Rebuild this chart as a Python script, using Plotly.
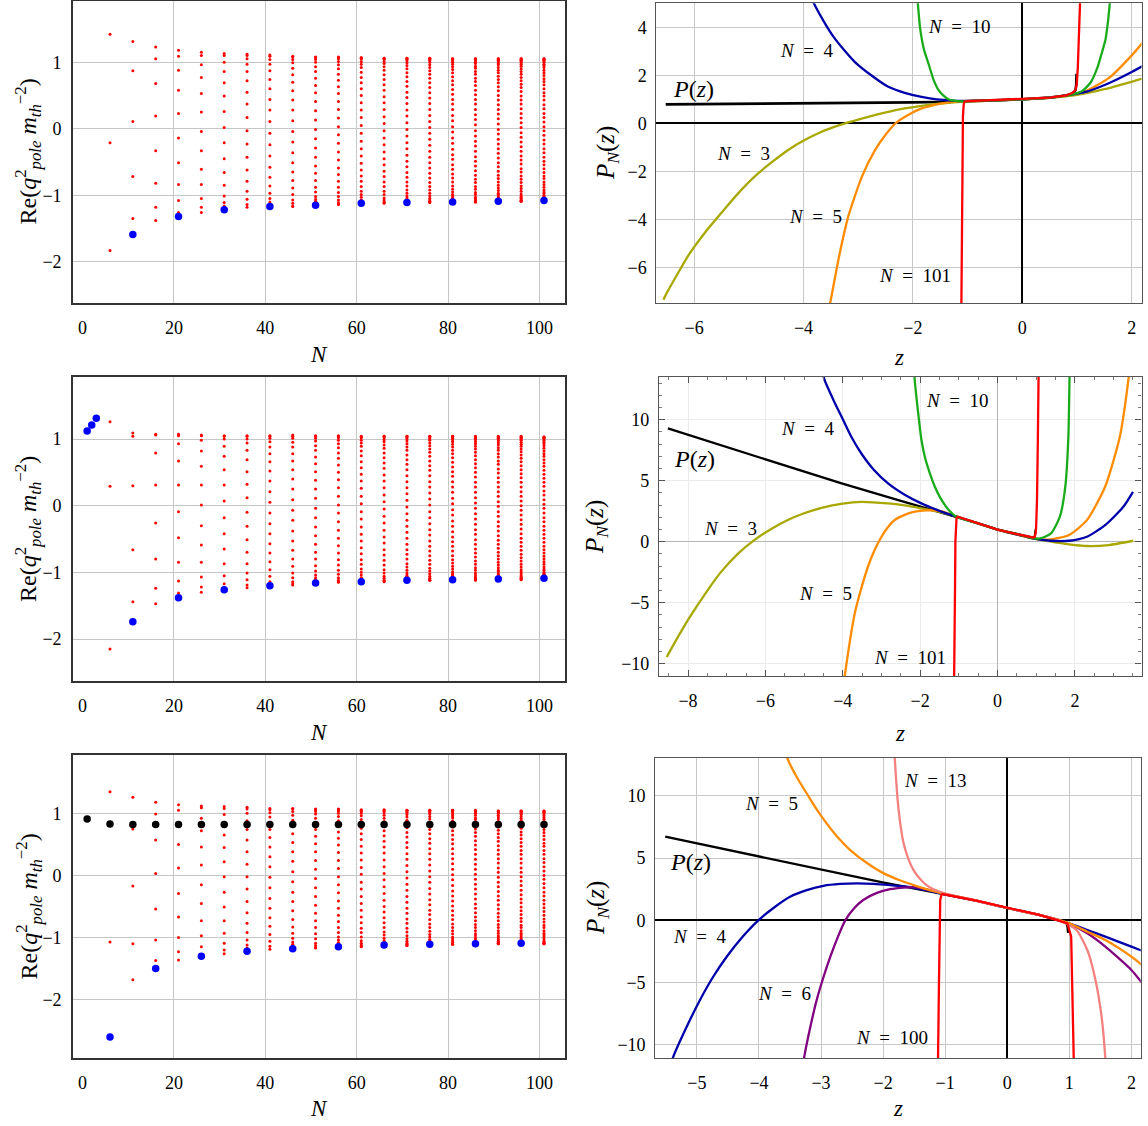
import plotly.graph_objects as go
from plotly.subplots import make_subplots

# ===================== LEFT COLUMN DATA =====================
N_cols = [6, 11, 16, 21, 26, 31, 36, 41, 46, 51, 56, 61, 66, 71, 76, 81, 86, 91, 96, 101]

red_top = [
 [1.42, -0.21, -1.83],
 [1.31, 0.87, 0.11, -0.72, -1.35],
 [1.23, 1.05, 0.68, 0.19, -0.33, -0.82, -1.18, -1.38],
 [1.18, 1.09, 0.88, 0.58, 0.23, -0.14, -0.51, -0.84, -1.08, -1.26],
 [1.15, 1.10, 0.96, 0.77, 0.53, 0.25, -0.04, -0.33, -0.61, -0.84, -1.05, -1.18, -1.26],
 [1.13, 1.10, 1.00, 0.86, 0.69, 0.49, 0.26, 0.02, -0.21, -0.45, -0.66, -0.85, -1.01, -1.11, -1.16],
 [1.12, 1.10, 1.05, 0.97, 0.86, 0.72, 0.55, 0.37, 0.17, -0.03, -0.23, -0.43, -0.62, -0.79, -0.94, -1.06, -1.14, -1.18],
 [1.11, 1.09, 1.04, 0.97, 0.87, 0.74, 0.60, 0.44, 0.28, 0.11, -0.07, -0.24, -0.41, -0.58, -0.73, -0.86, -0.97, -1.05, -1.10, -1.13],
 [1.09, 1.08, 1.04, 0.99, 0.91, 0.81, 0.70, 0.57, 0.43, 0.28, 0.12, -0.04, -0.20, -0.36, -0.51, -0.65, -0.78, -0.89, -0.99, -1.07, -1.12, -1.16, -1.17],
 [1.08, 1.07, 1.04, 1.00, 0.93, 0.86, 0.76, 0.65, 0.54, 0.41, 0.27, 0.13, -0.01, -0.15, -0.29, -0.43, -0.56, -0.67, -0.78, -0.88, -0.95, -1.02, -1.06, -1.09, -1.10],
 [1.08, 1.07, 1.05, 1.01, 0.96, 0.90, 0.82, 0.73, 0.63, 0.53, 0.41, 0.29, 0.16, 0.03, -0.09, -0.22, -0.35, -0.47, -0.59, -0.69, -0.79, -0.88, -0.96, -1.02, -1.07, -1.11, -1.13, -1.14],
 [1.07, 1.06, 1.05, 1.01, 0.97, 0.92, 0.85, 0.77, 0.69, 0.60, 0.50, 0.39, 0.28, 0.17, 0.05, -0.07, -0.19, -0.30, -0.41, -0.52, -0.62, -0.71, -0.79, -0.87, -0.94, -0.99, -1.03, -1.07, -1.08, -1.09],
 [1.06, 1.06, 1.04, 1.01, 0.98, 0.93, 0.88, 0.81, 0.74, 0.66, 0.58, 0.48, 0.39, 0.29, 0.18, 0.08, -0.03, -0.14, -0.24, -0.35, -0.45, -0.54, -0.64, -0.72, -0.80, -0.87, -0.94, -0.99, -1.04, -1.07, -1.10, -1.11, -1.12],
 [1.06, 1.06, 1.04, 1.02, 0.99, 0.95, 0.90, 0.84, 0.78, 0.71, 0.64, 0.55, 0.47, 0.38, 0.28, 0.19, 0.09, -0.01, -0.11, -0.21, -0.30, -0.40, -0.49, -0.57, -0.66, -0.73, -0.80, -0.86, -0.92, -0.97, -1.01, -1.04, -1.06, -1.07, -1.08],
 [1.06, 1.06, 1.04, 1.03, 1.00, 0.96, 0.92, 0.87, 0.82, 0.76, 0.69, 0.62, 0.54, 0.46, 0.38, 0.29, 0.20, 0.11, 0.02, -0.07, -0.16, -0.25, -0.34, -0.43, -0.51, -0.59, -0.67, -0.74, -0.81, -0.87, -0.92, -0.97, -1.01, -1.05, -1.07, -1.09, -1.10, -1.11],
 [1.05, 1.05, 1.04, 1.02, 1.00, 0.97, 0.93, 0.89, 0.84, 0.78, 0.72, 0.66, 0.59, 0.52, 0.44, 0.37, 0.29, 0.20, 0.12, 0.03, -0.05, -0.14, -0.22, -0.31, -0.39, -0.46, -0.54, -0.61, -0.68, -0.74, -0.80, -0.86, -0.91, -0.95, -0.99, -1.02, -1.04, -1.06, -1.07, -1.07],
 [1.05, 1.05, 1.04, 1.02, 1.00, 0.98, 0.94, 0.91, 0.86, 0.82, 0.76, 0.71, 0.65, 0.58, 0.51, 0.44, 0.37, 0.29, 0.21, 0.14, 0.06, -0.03, -0.11, -0.19, -0.26, -0.34, -0.42, -0.49, -0.56, -0.63, -0.70, -0.76, -0.81, -0.87, -0.91, -0.96, -0.99, -1.03, -1.05, -1.07, -1.09, -1.10, -1.10],
 [1.05, 1.05, 1.04, 1.03, 1.01, 0.98, 0.96, 0.92, 0.88, 0.84, 0.79, 0.74, 0.69, 0.63, 0.57, 0.50, 0.43, 0.36, 0.29, 0.22, 0.15, 0.07, -0.01, -0.08, -0.16, -0.23, -0.30, -0.37, -0.44, -0.51, -0.57, -0.64, -0.70, -0.75, -0.80, -0.85, -0.89, -0.93, -0.97, -0.99, -1.02, -1.04, -1.05, -1.06, -1.06],
 [1.05, 1.05, 1.04, 1.03, 1.01, 0.99, 0.97, 0.94, 0.90, 0.86, 0.82, 0.77, 0.72, 0.67, 0.62, 0.56, 0.49, 0.43, 0.37, 0.30, 0.23, 0.16, 0.09, 0.02, -0.06, -0.13, -0.20, -0.27, -0.34, -0.41, -0.47, -0.53, -0.60, -0.65, -0.71, -0.76, -0.81, -0.86, -0.90, -0.94, -0.98, -1.01, -1.03, -1.05, -1.07, -1.08, -1.09, -1.09],
 [1.05, 1.05, 1.04, 1.03, 1.02, 1.00, 0.97, 0.95, 0.92, 0.88, 0.84, 0.80, 0.75, 0.71, 0.66, 0.60, 0.54, 0.49, 0.43, 0.36, 0.30, 0.23, 0.17, 0.10, 0.03, -0.03, -0.10, -0.17, -0.23, -0.30, -0.36, -0.43, -0.49, -0.54, -0.60, -0.66, -0.71, -0.75, -0.80, -0.84, -0.88, -0.92, -0.95, -0.97, -1.00, -1.02, -1.03, -1.04, -1.05, -1.05],
]
blue_top_N = [11, 21, 31, 41, 51, 61, 71, 81, 91, 101]
blue_top = [-1.59, -1.32, -1.22, -1.17, -1.15, -1.12, -1.11, -1.10, -1.09, -1.08]

red_mid = [
 [1.26, 0.29, -2.15],
 [1.09, 1.04, 0.30, -0.66, -1.44],
 [1.07, 1.06, 0.79, 0.31, -0.26, -0.80, -1.24, -1.47],
 [1.07, 1.05, 0.93, 0.67, 0.31, -0.09, -0.48, -0.85, -1.13, -1.31],
 [1.06, 1.05, 0.98, 0.82, 0.59, 0.31, 0.01, -0.30, -0.59, -0.85, -1.07, -1.22, -1.30],
 [1.05, 1.04, 1.00, 0.89, 0.74, 0.54, 0.31, 0.07, -0.18, -0.42, -0.65, -0.87, -1.05, -1.17, -1.23],
 [1.05, 1.04, 1.00, 0.94, 0.83, 0.69, 0.51, 0.32, 0.12, -0.10, -0.31, -0.51, -0.70, -0.87, -1.01, -1.11, -1.19, -1.23],
 [1.05, 1.04, 1.01, 0.96, 0.88, 0.78, 0.66, 0.52, 0.37, 0.21, 0.05, -0.11, -0.27, -0.42, -0.57, -0.71, -0.84, -0.96, -1.06, -1.14],
 [1.06, 1.04, 1.01, 0.95, 0.88, 0.78, 0.67, 0.54, 0.40, 0.25, 0.09, -0.07, -0.22, -0.38, -0.53, -0.67, -0.80, -0.91, -1.01, -1.08, -1.14, -1.17, -1.19],
 [1.05, 1.04, 1.01, 0.97, 0.90, 0.83, 0.73, 0.63, 0.51, 0.38, 0.25, 0.11, -0.04, -0.18, -0.32, -0.45, -0.58, -0.70, -0.80, -0.90, -0.98, -1.04, -1.08, -1.11, -1.12],
 [1.05, 1.04, 1.02, 0.98, 0.93, 0.87, 0.79, 0.71, 0.61, 0.50, 0.39, 0.27, 0.14, 0.01, -0.11, -0.24, -0.37, -0.49, -0.60, -0.71, -0.81, -0.89, -0.97, -1.03, -1.08, -1.12, -1.14, -1.15],
 [1.04, 1.03, 1.02, 0.98, 0.94, 0.89, 0.82, 0.75, 0.66, 0.57, 0.47, 0.37, 0.26, 0.14, 0.03, -0.09, -0.20, -0.32, -0.43, -0.53, -0.63, -0.72, -0.81, -0.88, -0.95, -1.00, -1.04, -1.08, -1.09, -1.10],
 [1.04, 1.04, 1.02, 0.99, 0.96, 0.91, 0.86, 0.79, 0.72, 0.64, 0.56, 0.46, 0.37, 0.27, 0.16, 0.06, -0.05, -0.16, -0.26, -0.37, -0.47, -0.56, -0.66, -0.74, -0.82, -0.89, -0.96, -1.01, -1.06, -1.09, -1.12, -1.13, -1.14],
 [1.04, 1.04, 1.02, 1.00, 0.97, 0.93, 0.88, 0.83, 0.76, 0.69, 0.62, 0.54, 0.45, 0.36, 0.27, 0.18, 0.08, -0.02, -0.12, -0.22, -0.31, -0.40, -0.49, -0.58, -0.66, -0.73, -0.80, -0.87, -0.92, -0.97, -1.01, -1.04, -1.06, -1.07, -1.08],
 [1.04, 1.04, 1.02, 1.00, 0.98, 0.94, 0.90, 0.85, 0.80, 0.74, 0.67, 0.60, 0.53, 0.45, 0.36, 0.28, 0.19, 0.10, 0.01, -0.09, -0.18, -0.27, -0.36, -0.44, -0.53, -0.61, -0.68, -0.75, -0.82, -0.88, -0.94, -0.98, -1.02, -1.06, -1.09, -1.10, -1.12, -1.12],
 [1.04, 1.04, 1.03, 1.01, 0.99, 0.96, 0.92, 0.88, 0.83, 0.78, 0.72, 0.65, 0.58, 0.51, 0.44, 0.36, 0.28, 0.20, 0.11, 0.03, -0.06, -0.14, -0.23, -0.31, -0.39, -0.47, -0.54, -0.61, -0.68, -0.75, -0.81, -0.86, -0.91, -0.95, -0.99, -1.02, -1.04, -1.06, -1.07, -1.07],
 [1.04, 1.03, 1.02, 1.01, 0.99, 0.96, 0.93, 0.89, 0.85, 0.80, 0.75, 0.69, 0.63, 0.57, 0.50, 0.43, 0.35, 0.28, 0.20, 0.12, 0.04, -0.04, -0.12, -0.20, -0.28, -0.36, -0.43, -0.51, -0.58, -0.65, -0.71, -0.77, -0.83, -0.88, -0.93, -0.97, -1.01, -1.04, -1.07, -1.09, -1.10, -1.11, -1.12],
 [1.04, 1.03, 1.02, 1.01, 0.99, 0.97, 0.94, 0.91, 0.87, 0.83, 0.78, 0.73, 0.67, 0.62, 0.55, 0.49, 0.42, 0.35, 0.28, 0.21, 0.14, 0.06, -0.01, -0.09, -0.16, -0.24, -0.31, -0.38, -0.45, -0.52, -0.58, -0.64, -0.70, -0.75, -0.80, -0.85, -0.89, -0.93, -0.97, -0.99, -1.02, -1.04, -1.05, -1.06, -1.06],
 [1.04, 1.03, 1.03, 1.01, 1.00, 0.98, 0.95, 0.92, 0.89, 0.85, 0.81, 0.76, 0.71, 0.66, 0.60, 0.54, 0.48, 0.42, 0.35, 0.28, 0.21, 0.14, 0.07, 0.00, -0.07, -0.14, -0.21, -0.28, -0.35, -0.42, -0.49, -0.55, -0.61, -0.67, -0.73, -0.78, -0.83, -0.88, -0.92, -0.96, -0.99, -1.02, -1.05, -1.07, -1.08, -1.10, -1.10, -1.11],
 [1.03, 1.03, 1.02, 1.01, 1.00, 0.98, 0.95, 0.93, 0.90, 0.86, 0.82, 0.78, 0.74, 0.69, 0.64, 0.59, 0.53, 0.47, 0.41, 0.35, 0.29, 0.22, 0.16, 0.09, 0.02, -0.04, -0.11, -0.18, -0.24, -0.31, -0.37, -0.43, -0.49, -0.55, -0.61, -0.66, -0.71, -0.76, -0.80, -0.84, -0.88, -0.92, -0.95, -0.97, -1.00, -1.02, -1.03, -1.04, -1.05, -1.05],
]
blue_mid_N = [1, 2, 3, 11, 21, 31, 41, 51, 61, 71, 81, 91, 101]
blue_mid = [1.12, 1.21, 1.31, -1.74, -1.38, -1.26, -1.20, -1.16, -1.14, -1.12, -1.11, -1.10, -1.09]

red_bot = [
 [1.35, -1.07],
 [1.26, 0.75, -0.17, -1.10, -1.68],
 [1.18, 0.99, 0.57, 0.03, -0.54, -1.04, -1.37],
 [1.14, 1.05, 0.82, 0.50, 0.12, -0.29, -0.67, -1.00, -1.23, -1.36],
 [1.12, 1.09, 0.92, 0.72, 0.46, 0.17, -0.15, -0.45, -0.73, -0.97, -1.15],
 [1.11, 1.08, 0.98, 0.83, 0.65, 0.45, 0.22, -0.02, -0.27, -0.51, -0.73, -0.93, -1.09, -1.20, -1.26],
 [1.10, 1.07, 1.00, 0.88, 0.74, 0.57, 0.38, 0.18, -0.02, -0.22, -0.42, -0.60, -0.77, -0.92, -1.04, -1.12, -1.17],
 [1.08, 1.06, 1.01, 0.94, 0.85, 0.74, 0.61, 0.46, 0.30, 0.14, -0.03, -0.20, -0.37, -0.53, -0.68, -0.82, -0.95, -1.06, -1.14, -1.19],
 [1.08, 1.07, 1.03, 0.97, 0.89, 0.79, 0.67, 0.53, 0.38, 0.23, 0.06, -0.10, -0.27, -0.42, -0.57, -0.71, -0.83, -0.93, -1.01, -1.07, -1.11, -1.12],
 [1.07, 1.06, 1.03, 0.99, 0.92, 0.84, 0.74, 0.63, 0.51, 0.38, 0.24, 0.10, -0.05, -0.20, -0.34, -0.48, -0.61, -0.73, -0.84, -0.94, -1.02, -1.09, -1.13, -1.16, -1.17],
 [1.07, 1.06, 1.04, 1.00, 0.95, 0.88, 0.80, 0.70, 0.60, 0.49, 0.37, 0.24, 0.11, -0.02, -0.15, -0.28, -0.41, -0.53, -0.64, -0.74, -0.84, -0.92, -0.99, -1.04, -1.08, -1.10, -1.11],
 [1.06, 1.05, 1.03, 1.00, 0.96, 0.90, 0.84, 0.76, 0.67, 0.58, 0.47, 0.36, 0.25, 0.13, 0.02, -0.11, -0.22, -0.34, -0.45, -0.56, -0.67, -0.76, -0.85, -0.92, -0.99, -1.05, -1.09, -1.12, -1.14, -1.15],
 [1.06, 1.05, 1.04, 1.01, 0.97, 0.92, 0.87, 0.80, 0.72, 0.64, 0.55, 0.46, 0.36, 0.25, 0.14, 0.03, -0.07, -0.18, -0.29, -0.40, -0.50, -0.59, -0.68, -0.76, -0.84, -0.91, -0.96, -1.01, -1.05, -1.08, -1.09, -1.10],
 [1.05, 1.05, 1.03, 1.01, 0.98, 0.94, 0.89, 0.83, 0.77, 0.69, 0.62, 0.53, 0.45, 0.35, 0.26, 0.16, 0.06, -0.04, -0.14, -0.24, -0.34, -0.43, -0.53, -0.61, -0.70, -0.77, -0.85, -0.91, -0.97, -1.02, -1.06, -1.09, -1.11, -1.13, -1.13],
 [1.05, 1.05, 1.03, 1.01, 0.99, 0.95, 0.91, 0.86, 0.80, 0.74, 0.67, 0.59, 0.52, 0.43, 0.35, 0.26, 0.17, 0.07, -0.02, -0.11, -0.21, -0.30, -0.39, -0.47, -0.56, -0.63, -0.71, -0.78, -0.84, -0.90, -0.95, -0.99, -1.03, -1.05, -1.07, -1.09, -1.09],
 [1.05, 1.05, 1.04, 1.02, 0.99, 0.96, 0.93, 0.88, 0.83, 0.78, 0.72, 0.65, 0.58, 0.51, 0.43, 0.35, 0.27, 0.19, 0.10, 0.01, -0.07, -0.16, -0.25, -0.33, -0.41, -0.49, -0.57, -0.64, -0.71, -0.78, -0.84, -0.89, -0.94, -0.99, -1.02, -1.05, -1.08, -1.10, -1.11, -1.11],
 [1.05, 1.04, 1.03, 1.02, 1.00, 0.97, 0.93, 0.90, 0.85, 0.80, 0.75, 0.69, 0.63, 0.56, 0.49, 0.42, 0.34, 0.26, 0.18, 0.10, 0.02, -0.06, -0.14, -0.22, -0.30, -0.38, -0.46, -0.53, -0.60, -0.67, -0.73, -0.79, -0.84, -0.89, -0.94, -0.97, -1.01, -1.04, -1.06, -1.07, -1.08, -1.09],
 [1.04, 1.04, 1.03, 1.02, 1.00, 0.97, 0.94, 0.91, 0.87, 0.83, 0.78, 0.73, 0.67, 0.61, 0.55, 0.48, 0.41, 0.34, 0.27, 0.20, 0.12, 0.05, -0.03, -0.11, -0.18, -0.26, -0.33, -0.40, -0.47, -0.54, -0.61, -0.67, -0.73, -0.79, -0.84, -0.89, -0.93, -0.97, -1.00, -1.03, -1.06, -1.08, -1.09, -1.10, -1.10],
 [1.04, 1.04, 1.03, 1.02, 1.00, 0.98, 0.95, 0.92, 0.89, 0.85, 0.80, 0.76, 0.70, 0.65, 0.59, 0.53, 0.47, 0.40, 0.34, 0.27, 0.20, 0.12, 0.05, -0.02, -0.09, -0.16, -0.24, -0.31, -0.38, -0.44, -0.51, -0.57, -0.63, -0.69, -0.74, -0.80, -0.84, -0.89, -0.93, -0.96, -0.99, -1.02, -1.04, -1.06, -1.07, -1.08, -1.08],
 [1.04, 1.04, 1.03, 1.02, 1.01, 0.99, 0.96, 0.93, 0.90, 0.87, 0.83, 0.79, 0.74, 0.69, 0.64, 0.58, 0.52, 0.47, 0.40, 0.34, 0.27, 0.21, 0.14, 0.07, 0.00, -0.06, -0.13, -0.20, -0.27, -0.33, -0.40, -0.46, -0.52, -0.58, -0.64, -0.70, -0.75, -0.80, -0.84, -0.89, -0.93, -0.96, -0.99, -1.02, -1.05, -1.07, -1.08, -1.09, -1.10, -1.10],
]
blue_bot_N = [6, 16, 26, 36, 46, 56, 66, 76, 86, 96]
blue_bot = [-2.60, -1.50, -1.30, -1.22, -1.18, -1.15, -1.12, -1.11, -1.10, -1.09]
black_bot_N = [1, 6, 11, 16, 21, 26, 31, 36, 41, 46, 51, 56, 61, 66, 71, 76, 81, 86, 91, 96, 101]
black_bot = [0.91, 0.83, 0.82, 0.82, 0.82, 0.82, 0.82, 0.82, 0.82, 0.82, 0.82, 0.82, 0.82, 0.82, 0.82, 0.82, 0.82, 0.82, 0.82, 0.82, 0.82]

# ===================== RIGHT COLUMN DATA =====================
# --- top right ---
zP_1 = [-6.52, -5.0, -4.0, -3.0, -2.0, -1.5, -1.07, -0.5, 0.0, 0.5, 0.8, 0.9, 0.95, 0.975, 0.985, 0.992]
P_1 = [0.79, 0.81, 0.83, 0.85, 0.87, 0.89, 0.91, 0.95, 1.0, 1.07, 1.16, 1.23, 1.31, 1.40, 1.60, 2.06]
z3_1 = [-6.56, -6.52, -6.31, -6.11, -5.80, -5.50, -5.20, -4.89, -4.58, -4.28, -3.98, -3.67, -3.45, -3.24, -2.85, -2.45, -2.15, -1.84, -1.60, -1.35, -1.13, -0.5, 0.0, 0.5, 1.0, 1.5, 2.01, 2.25]
p3_1 = [-7.35, -7.15, -6.3, -5.52, -4.55, -3.73, -2.93, -2.21, -1.62, -1.11, -0.70, -0.35, -0.16, 0.0, 0.25, 0.48, 0.62, 0.73, 0.80, 0.85, 0.89, 0.95, 1.0, 1.06, 1.18, 1.42, 1.74, 1.9]
z5_1 = [-3.53, -3.51, -3.36, -3.18, -2.93, -2.69, -2.50, -2.32, -2.08, -1.84, -1.62, -1.41, -1.20, -1.0, -0.5, 0.0, 0.5, 1.0, 1.18, 1.58, 2.01, 2.25]
p5_1 = [-7.6, -7.45, -5.66, -3.87, -2.21, -1.11, -0.48, 0.0, 0.36, 0.62, 0.76, 0.85, 0.90, 0.93, 0.96, 1.0, 1.07, 1.25, 1.36, 1.88, 2.85, 3.5]
z4_1 = [-3.86, -3.81, -3.63, -3.45, -3.25, -3.06, -2.75, -2.45, -2.15, -1.84, -1.60, -1.35, -1.13, -0.5, 0.0, 0.5, 1.0, 1.18, 1.58, 2.01, 2.25]
p4_1 = [5.3, 5.0, 4.25, 3.6, 3.03, 2.55, 1.98, 1.52, 1.27, 1.10, 1.01, 0.96, 0.93, 0.96, 1.0, 1.07, 1.24, 1.32, 1.67, 2.15, 2.45]
z10_1 = [-1.93, -1.91, -1.87, -1.80, -1.71, -1.62, -1.53, -1.44, -1.35, -1.25, -1.10, -1.0, -0.5, 0.0, 0.5, 0.8, 1.0, 1.1, 1.25, 1.38, 1.45, 1.52, 1.57, 1.60, 1.62]
p10_1 = [5.5, 5.0, 4.0, 3.1, 2.45, 1.8, 1.38, 1.15, 1.0, 0.94, 0.91, 0.92, 0.96, 1.0, 1.07, 1.16, 1.26, 1.35, 1.7, 2.36, 2.9, 3.47, 4.3, 5.0, 5.5]
z101_1 = [-1.115, -1.105, -1.095, -1.085, -1.07, -1.055, -1.0, -0.5, 0.0, 0.5, 0.8, 0.92, 0.97, 0.995, 1.015, 1.035, 1.05, 1.065]
p101_1 = [-8.0, -4.0, -1.0, 0.3, 0.8, 0.91, 0.92, 0.96, 1.0, 1.07, 1.16, 1.27, 1.38, 1.6, 2.3, 3.3, 4.3, 5.6]

# --- middle right ---
zP_2 = [-8.52, -6.0, -4.03, -2.5, -1.19, -1.06, -0.5, 0.0, 0.5, 0.91, 0.96, 0.975, 0.985]
P_2 = [9.28, 6.75, 4.78, 3.35, 2.16, 2.05, 1.5, 1.0, 0.63, 0.33, 0.38, 0.6, 1.0]
z3_2 = [-8.55, -8.52, -8.0, -7.5, -7.14, -6.7, -6.28, -5.85, -5.42, -5.0, -4.55, -4.0, -3.52, -2.83, -2.4, -1.97, -1.5, -1.19, -1.06, -0.5, 0.0, 0.5, 0.91, 1.38, 1.85, 2.31, 2.88, 3.5]
p3_2 = [-9.45, -9.27, -6.41, -4.0, -2.45, -0.95, 0.15, 1.05, 1.78, 2.33, 2.78, 3.13, 3.27, 3.14, 2.97, 2.73, 2.45, 2.19, 2.07, 1.5, 1.0, 0.6, 0.27, 0.0, -0.22, -0.35, -0.27, 0.08]
z5_2 = [-3.98, -3.95, -3.82, -3.69, -3.52, -3.35, -3.18, -3.0, -2.83, -2.66, -2.4, -2.14, -1.85, -1.54, -1.3, -1.06, -0.5, 0.0, 0.5, 0.91, 1.38, 1.85, 2.31, 2.78, 3.16, 3.39, 3.42]
p5_2 = [-11.8, -10.99, -8.2, -5.86, -3.8, -2.05, -0.7, 0.41, 1.2, 1.78, 2.2, 2.46, 2.57, 2.54, 2.35, 2.05, 1.5, 1.0, 0.6, 0.27, 0.19, 0.55, 1.77, 4.5, 8.6, 13.5, 14.5]
z4_2 = [-4.55, -4.47, -4.24, -4.03, -3.78, -3.52, -3.2, -2.83, -2.4, -1.97, -1.6, -1.36, -1.06, -0.5, 0.0, 0.5, 0.91, 1.38, 1.85, 2.31, 2.78, 3.25, 3.50]
p4_2 = [14.2, 13.23, 11.6, 10.23, 8.6, 7.23, 5.9, 4.78, 3.85, 3.14, 2.65, 2.37, 2.05, 1.5, 1.0, 0.6, 0.27, 0.08, 0.08, 0.41, 1.36, 2.86, 4.09]
z10_2 = [-2.16, -2.14, -2.05, -1.97, -1.88, -1.75, -1.62, -1.49, -1.36, -1.25, -1.15, -1.06, -0.5, 0.0, 0.5, 0.91, 1.10, 1.38, 1.61, 1.75, 1.83, 1.86, 1.87]
p10_2 = [14.5, 13.23, 10.5, 8.4, 6.96, 5.6, 4.5, 3.65, 3.0, 2.55, 2.25, 2.05, 1.5, 1.0, 0.62, 0.30, 0.27, 0.68, 2.05, 4.5, 8.6, 13.5, 15.0]
z101_2 = [-1.125, -1.12, -1.10, -1.09, -1.08, -1.06, -1.03, -0.5, 0.0, 0.5, 0.91, 0.96, 0.99, 1.0, 1.02, 1.04, 1.06, 1.065]
p101_2 = [-12.0, -11.0, -4.0, 0.0, 1.5, 1.95, 2.05, 1.5, 1.0, 0.63, 0.35, 0.4, 0.8, 1.5, 3.5, 8.0, 13.5, 15.0]

# --- bottom right ---
zP_3 = [-5.51, -3.98, -1.99, -1.13, -0.5, 0.0, 0.5, 0.82, 0.95, 0.97, 0.98]
P_3 = [6.71, 5.1, 3.02, 2.21, 1.58, 0.99, 0.45, 0.0, -0.2, -0.5, -1.0]
z4_3 = [-5.42, -5.38, -5.17, -4.95, -4.74, -4.52, -4.26, -4.01, -3.75, -3.50, -3.23, -2.96, -2.69, -2.42, -2.15, -1.89, -1.66, -1.46, -1.27, -1.08, -0.5, 0.0, 0.5, 1.0, 1.29, 1.58, 2.0, 2.2]
p4_3 = [-11.6, -10.94, -8.6, -6.39, -4.55, -2.92, -1.3, 0.0, 1.05, 1.89, 2.42, 2.77, 2.92, 2.97, 2.93, 2.83, 2.72, 2.57, 2.38, 2.17, 1.58, 0.99, 0.45, -0.24, -0.78, -1.31, -2.11, -2.5]
z6_3 = [-3.29, -3.27, -3.17, -3.07, -2.96, -2.85, -2.73, -2.61, -2.47, -2.32, -2.10, -1.89, -1.67, -1.46, -1.27, -1.08, -0.5, 0.0, 0.5, 1.0, 1.29, 1.58, 2.0, 2.2]
p6_3 = [-11.6, -10.94, -8.5, -6.39, -4.55, -2.92, -1.35, 0.0, 0.95, 1.63, 2.2, 2.5, 2.63, 2.65, 2.45, 2.2, 1.58, 0.99, 0.45, -0.29, -1.04, -2.11, -3.98, -5.2]
z5_3 = [-3.58, -3.53, -3.38, -3.23, -3.07, -2.91, -2.72, -2.53, -2.26, -1.99, -1.72, -1.46, -1.27, -1.08, -0.5, 0.0, 0.5, 1.0, 1.29, 1.58, 2.0, 2.2]
p5_3 = [13.6, 12.86, 11.4, 10.18, 8.9, 7.78, 6.6, 5.64, 4.6, 3.77, 3.2, 2.75, 2.45, 2.21, 1.58, 0.99, 0.45, -0.24, -0.91, -1.58, -2.91, -3.7]
z13_3 = [-1.82, -1.81, -1.75, -1.67, -1.59, -1.51, -1.40, -1.30, -1.19, -1.08, -1.0, -0.5, 0.0, 0.5, 0.88, 1.115, 1.29, 1.41, 1.52, 1.58, 1.59]
p13_3 = [14.0, 12.86, 8.85, 6.18, 4.9, 4.03, 3.3, 2.83, 2.5, 2.29, 2.15, 1.58, 0.99, 0.45, -0.1, -0.78, -2.38, -4.52, -7.73, -11.05, -12.0]
z100_3 = [-1.12, -1.115, -1.10, -1.09, -1.08, -1.06, -1.045, -0.5, 0.0, 0.5, 0.82, 0.97, 1.03, 1.05, 1.07, 1.075]
p100_3 = [-12.0, -11.05, -5.05, 0.0, 1.63, 2.05, 2.11, 1.58, 0.99, 0.45, 0.0, -0.24, -1.31, -5.05, -11.05, -12.0]

# ===================== FIGURE =====================
FONT = "Liberation Serif"
W, H = 1148, 1126
fig = make_subplots(rows=3, cols=2)

RED = "#ff0000"
BLUE_DOT = "#0000ff"
C_BLACK = "#000000"
C_OLIVE = "#a8a800"
C_ORANGE = "#ff8c00"
C_BLUE = "#0000aa"
C_GREEN = "#1aab1a"
C_PINK = "#f58080"
C_PURPLE = "#800080"


def add_poles(row, red, bN, bV, kN=None, kV=None):
    xs, ys = [], []
    for n, col in zip(N_cols, red):
        xs += [n] * len(col)
        ys += col
    fig.add_trace(go.Scatter(x=xs, y=ys, mode="markers", showlegend=False,
                             marker=dict(color=RED, size=3, line=dict(width=0))), row=row, col=1)
    if kN is not None:
        fig.add_trace(go.Scatter(x=kN, y=kV, mode="markers", showlegend=False,
                                 marker=dict(color="black", size=7.5, line=dict(width=0))), row=row, col=1)
    fig.add_trace(go.Scatter(x=bN, y=bV, mode="markers", showlegend=False,
                             marker=dict(color=BLUE_DOT, size=7.5, line=dict(width=0))), row=row, col=1)


add_poles(1, red_top, blue_top_N, blue_top)
add_poles(2, red_mid, blue_mid_N, blue_mid)
add_poles(3, red_bot, blue_bot_N, blue_bot, black_bot_N, black_bot)


def add_curve(row, z, p, color, smooth=True, width=2.3):
    line = dict(color=color, width=width)
    if smooth:
        line.update(shape="spline", smoothing=0.6)
    fig.add_trace(go.Scatter(x=z, y=p, mode="lines", line=line, showlegend=False), row=row, col=2)


add_curve(1, zP_1, P_1, C_BLACK, smooth=False, width=2.6)
add_curve(1, z3_1, p3_1, C_OLIVE)
add_curve(1, z5_1, p5_1, C_ORANGE)
add_curve(1, z4_1, p4_1, C_BLUE)
add_curve(1, z10_1, p10_1, C_GREEN)
add_curve(1, z101_1, p101_1, RED, smooth=False)

add_curve(2, zP_2, P_2, C_BLACK, smooth=False)
add_curve(2, z3_2, p3_2, C_OLIVE)
add_curve(2, z5_2, p5_2, C_ORANGE)
add_curve(2, z4_2, p4_2, C_BLUE)
add_curve(2, z10_2, p10_2, C_GREEN)
add_curve(2, z101_2, p101_2, RED, smooth=False)

add_curve(3, zP_3, P_3, C_BLACK, smooth=False)
add_curve(3, z4_3, p4_3, C_BLUE)
add_curve(3, z6_3, p6_3, C_PURPLE)
add_curve(3, z5_3, p5_3, C_ORANGE)
add_curve(3, z13_3, p13_3, C_PINK)
add_curve(3, z100_3, p100_3, RED, smooth=False)

# ---------- axes ----------
tickfont = dict(family=FONT, size=18, color="black")
left_x_dom = [73 / W, 565 / W]
doms = {
    1: (left_x_dom, [1 - 303 / H, 1 - 1 / H]),
    2: ([656.4 / W, 1141.5 / W], [1 - 303.3 / H, 1 - 3.3 / H]),
    3: (left_x_dom, [1 - 681 / H, 1 - 377 / H]),
    4: ([659 / W, 1141.5 / W], [1 - 676 / H, 1 - 376.7 / H]),
    5: (left_x_dom, [1 - 1058 / H, 1 - 755 / H]),
    6: ([655.3 / W, 1140.7 / W], [1 - 1058 / H, 1 - 758 / H]),
}
yranges_left = {1: [-2.62, 1.92], 3: [-2.63, 1.93], 5: [-2.94, 1.94]}
for i in (1, 3, 5):
    xd, yd = doms[i]
    sfx = i if i > 1 else ""
    fig.update_layout(**{
        f"xaxis{sfx}": dict(
            domain=xd, range=[-2.1, 105.6], tickvals=[0, 20, 40, 60, 80, 100],
            showgrid=False, zeroline=False, showline=True, mirror=True,
            linecolor="#333333", linewidth=1.6, ticks="", tickfont=tickfont,
            ticklabelstandoff=8,
            minor=dict(tickvals=[20, 40, 60, 80, 100], showgrid=True,
                       gridcolor="#c6c6c6", gridwidth=1.4, ticks="")),
        f"yaxis{sfx}": dict(
            domain=yd, range=yranges_left[i], tickvals=[-2, -1, 0, 1],
            showgrid=True, gridcolor="#c6c6c6", gridwidth=1.4, zeroline=False,
            showline=True, mirror=True, linecolor="#333333", linewidth=1.6,
            ticks="", tickfont=tickfont, ticklabelstandoff=6),
    })

fig.update_layout(
    xaxis2=dict(domain=doms[2][0], range=[-6.69, 2.18], tickvals=[-6, -4, -2, 0, 2],
                showgrid=True, gridcolor="#c8c8c8", gridwidth=1.2,
                zeroline=True, zerolinecolor="black", zerolinewidth=1.6,
                showline=True, mirror=True, linecolor="#555555", linewidth=1.2,
                ticks="", tickfont=tickfont, ticklabelstandoff=8),
    yaxis2=dict(domain=doms[2][1], range=[-7.5, 5.0], tickvals=[-6, -4, -2, 0, 2, 4],
                showgrid=True, gridcolor="#c8c8c8", gridwidth=1.2,
                zeroline=True, zerolinecolor="black", zerolinewidth=1.6,
                showline=True, mirror=True, linecolor="#555555", linewidth=1.2,
                ticks="", tickfont=tickfont, ticklabelstandoff=5),
    xaxis4=dict(domain=doms[4][0], range=[-8.75, 3.72], tickvals=[-8, -6, -4, -2, 0, 2],
                showgrid=True, gridcolor="#ebebeb", gridwidth=1,
                zeroline=True, zerolinecolor="#b4b4b4", zerolinewidth=1.2,
                showline=True, mirror="ticks", linecolor="#555555", linewidth=1.2,
                ticks="inside", ticklen=6, tickcolor="#555555", tickfont=tickfont,
                ticklabelstandoff=8,
                minor=dict(dtick=0.5, ticks="inside", ticklen=3, tickcolor="#777777", showgrid=False)),
    yaxis4=dict(domain=doms[4][1], range=[-11.0, 13.52], tickvals=[-10, -5, 0, 5, 10],
                showgrid=True, gridcolor="#ebebeb", gridwidth=1,
                zeroline=True, zerolinecolor="#b4b4b4", zerolinewidth=1.2,
                showline=True, mirror="ticks", linecolor="#555555", linewidth=1.2,
                ticks="inside", ticklen=6, tickcolor="#555555", tickfont=tickfont,
                ticklabelstandoff=5,
                minor=dict(dtick=1, ticks="inside", ticklen=3, tickcolor="#777777", showgrid=False)),
    xaxis6=dict(domain=doms[6][0], range=[-5.67, 2.15], tickvals=[-5, -4, -3, -2, -1, 0, 1, 2],
                showgrid=True, gridcolor="#c8c8c8", gridwidth=1.2,
                zeroline=True, zerolinecolor="black", zerolinewidth=1.6,
                showline=True, mirror=True, linecolor="#555555", linewidth=1.2,
                ticks="", tickfont=tickfont, ticklabelstandoff=8),
    yaxis6=dict(domain=doms[6][1], range=[-11.05, 13.03], tickvals=[-10, -5, 0, 5, 10],
                showgrid=True, gridcolor="#c8c8c8", gridwidth=1.2,
                zeroline=True, zerolinecolor="black", zerolinewidth=1.6,
                showline=True, mirror=True, linecolor="#555555", linewidth=1.2,
                ticks="", tickfont=tickfont, ticklabelstandoff=5),
)

# ---------- labels ----------
ann = []
ylab_left = "Re(<i>q</i><sup>2</sup><sub><i>pole</i></sub> <i>m</i><sub><i>th</i></sub><sup>\u22122</sup>)"
ylab_right = "<i>P</i><sub><i>N</i></sub>(<i>z</i>)"
for yc in (151.5, 529, 906.5):
    ann.append(dict(text=ylab_left, x=28 / W, y=1 - yc / H, xref="paper", yref="paper",
                    textangle=-90, showarrow=False, font=dict(family=FONT, size=24, color="black"),
                    xanchor="center", yanchor="middle"))
for (xc, yc) in ((608, 153), (596, 527), (597, 908)):
    ann.append(dict(text=ylab_right, x=xc / W, y=1 - yc / H, xref="paper", yref="paper",
                    textangle=-90, showarrow=False, font=dict(family=FONT, size=25, color="black"),
                    xanchor="center", yanchor="middle"))
for yc in (355, 732, 1108):
    ann.append(dict(text="<i>N</i>", x=319 / W, y=1 - yc / H, xref="paper", yref="paper",
                    showarrow=False, font=dict(family=FONT, size=23, color="black"),
                    xanchor="center", yanchor="middle"))
for (xc, yc) in ((899, 357), (900, 733), (898, 1108)):
    ann.append(dict(text="<i>z</i>", x=xc / W, y=1 - yc / H, xref="paper", yref="paper",
                    showarrow=False, font=dict(family=FONT, size=23, color="black"),
                    xanchor="center", yanchor="middle"))

EQ = "\u2002=\u2002"
curve_labels = [
    ("x2", "y2", "<i>N</i>" + EQ + "10", -1.15, 4.05, 19),
    ("x2", "y2", "<i>N</i>" + EQ + "4", -3.95, 3.05, 19),
    ("x2", "y2", "<i>P</i>(<i>z</i>)", -6.01, 1.43, 24),
    ("x2", "y2", "<i>N</i>" + EQ + "3", -5.10, -1.24, 19),
    ("x2", "y2", "<i>N</i>" + EQ + "5", -3.79, -3.9, 19),
    ("x2", "y2", "<i>N</i>" + EQ + "101", -1.96, -6.35, 19),
    ("x4", "y4", "<i>N</i>" + EQ + "10", -1.05, 11.6, 19),
    ("x4", "y4", "<i>N</i>" + EQ + "4", -4.90, 9.3, 19),
    ("x4", "y4", "<i>P</i>(<i>z</i>)", -7.82, 6.8, 24),
    ("x4", "y4", "<i>N</i>" + EQ + "3", -6.89, 1.1, 19),
    ("x4", "y4", "<i>N</i>" + EQ + "5", -4.45, -4.2, 19),
    ("x4", "y4", "<i>N</i>" + EQ + "101", -2.26, -9.45, 19),
    ("x6", "y6", "<i>N</i>" + EQ + "13", -1.16, 11.2, 19),
    ("x6", "y6", "<i>N</i>" + EQ + "5", -3.80, 9.35, 19),
    ("x6", "y6", "<i>P</i>(<i>z</i>)", -5.11, 4.7, 24),
    ("x6", "y6", "<i>N</i>" + EQ + "4", -4.96, -1.3, 19),
    ("x6", "y6", "<i>N</i>" + EQ + "6", -3.59, -5.85, 19),
    ("x6", "y6", "<i>N</i>" + EQ + "100", -1.86, -9.37, 19),
]
for xr, yr, t, x, y, s in curve_labels:
    ann.append(dict(text=t, x=x, y=y, xref=xr, yref=yr, showarrow=False,
                    font=dict(family=FONT, size=s, color="black"),
                    xanchor="center", yanchor="middle"))

fig.update_layout(
    width=W, height=H, margin=dict(l=0, r=0, t=0, b=0),
    paper_bgcolor="white", plot_bgcolor="white",
    annotations=ann, showlegend=False,
    font=dict(family=FONT, color="black"),
)

fig.write_html("out.html", config={"displayModeBar": False},
               post_script="document.body.style.margin='0px';document.body.style.padding='0px';")
